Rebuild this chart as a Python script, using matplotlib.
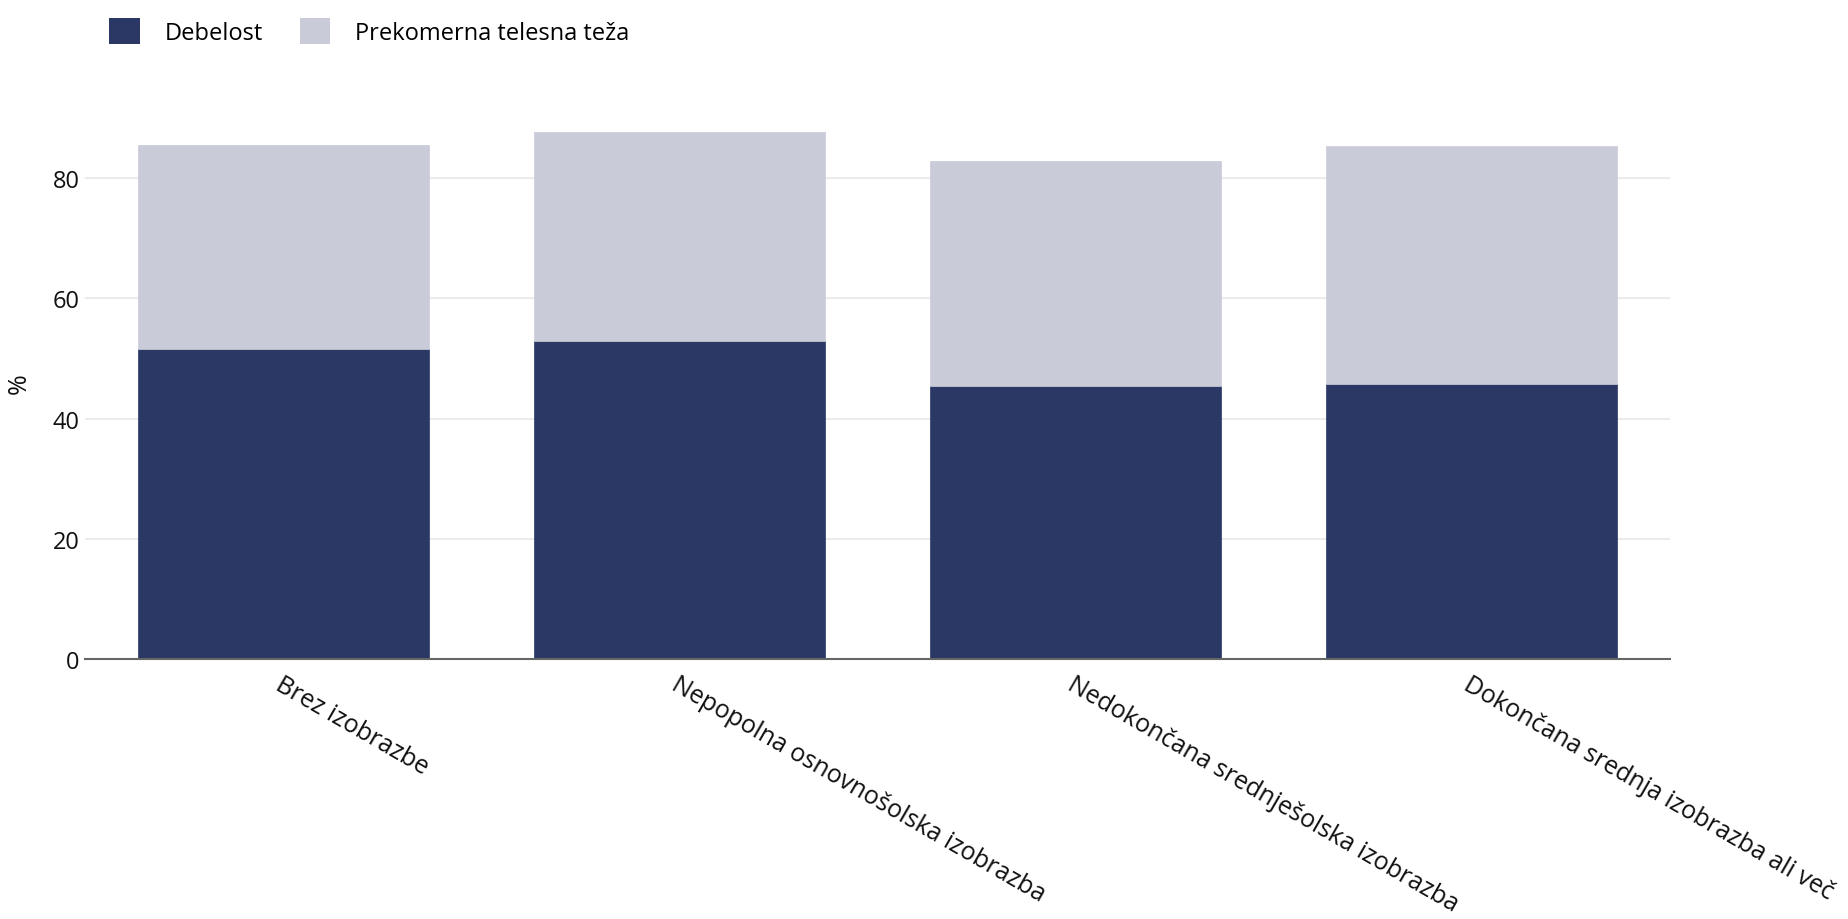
import matplotlib
matplotlib.use("Agg")
import matplotlib.pyplot as plt
from matplotlib.patches import Patch

plt.rcParams['font.family'] = ['Open Sans', 'DejaVu Sans']

categories = ["Brez izobrazbe", "Nepopolna osnovnošolska izobrazba",
              "Nedokončana srednješolska izobrazba", "Dokončana srednja izobrazba ali več"]
debelost = [51.5, 52.9, 45.5, 45.8]
prekomerna = [34.0, 34.7, 37.3, 39.5]
series_names = ["Debelost", "Prekomerna telesna teža"]
yticks = [0, 20, 40, 60, 80]

dark = "#2b3764"
light = "#c9ccd8"

fig = plt.figure(figsize=(18.48, 9.2), dpi=100)
ax = fig.add_axes([85/1848, 1 - 660.3/920, (1670-85)/1848, 553.6/920])

x = list(range(len(categories)))
w = 0.735
ax.bar(x, debelost, width=w, color=dark, edgecolor=dark, linewidth=0.5, zorder=3)
ax.bar(x, prekomerna, width=w, bottom=debelost, color=light, edgecolor=light, linewidth=0.5, zorder=3)

ax.set_xlim(-0.5, 3.5)
ax.set_ylim(0, 92)
ax.set_yticks(yticks)
ax.set_yticklabels([str(t) for t in yticks])
ax.grid(axis='y', color='#ebebeb', linewidth=1.5, zorder=0)
ax.set_axisbelow(True)
for s in ['top', 'right', 'left']:
    ax.spines[s].set_visible(False)
ax.spines['bottom'].set_color('#666666')
ax.spines['bottom'].set_linewidth(1.5)
ax.spines['bottom'].set_zorder(4)
fs = 17
ax.tick_params(axis='y', length=0, pad=4, labelsize=fs, labelcolor='#111111')
ax.tick_params(axis='x', length=0, pad=9)
ax.set_xticks(x)
ax.set_xticklabels(categories, rotation=-30, ha='left', va='top',
                   rotation_mode='anchor', fontsize=18, color='#111111')
ax.set_ylabel('%', fontsize=18, labelpad=15, color='#111111')

handles = [Patch(facecolor=dark, edgecolor='none'), Patch(facecolor=light, edgecolor='none')]
fig.legend(handles, series_names, loc='upper left', bbox_to_anchor=(88/1848, 1 + 2/920),
           ncol=2, frameon=False, fontsize=17, handlelength=1.3, handleheight=1.3,
           handletextpad=1.05, columnspacing=1.55)

fig.savefig("out.png", dpi=100, facecolor='white')
